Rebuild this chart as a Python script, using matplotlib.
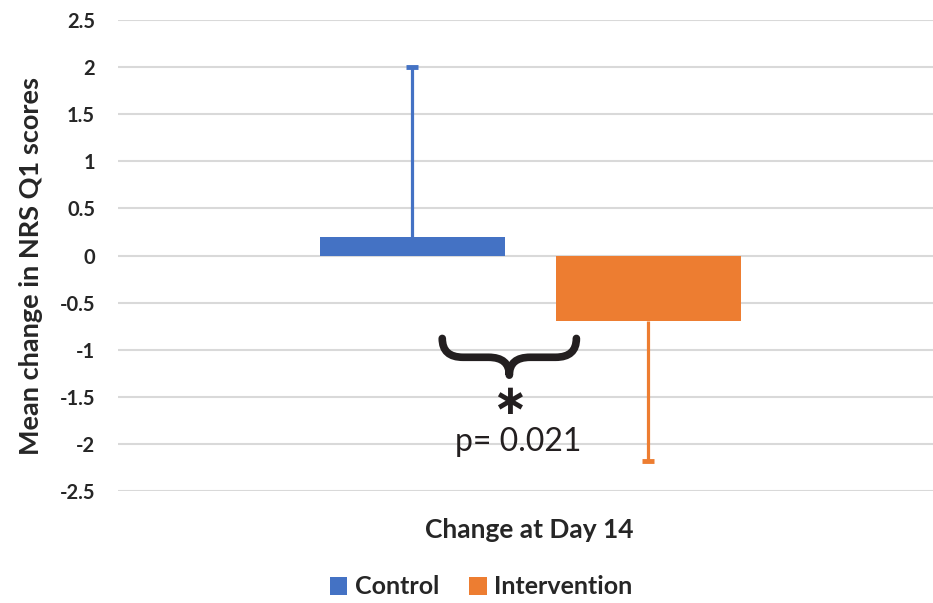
import numpy as np
from matplotlib import pyplot as plt
from matplotlib.path import Path
from matplotlib.patches import PathPatch

plt.rcParams["font.family"] = ["Lato", "DejaVu Sans"]

# data
groups = ["Control", "Intervention"]
means = [0.2, -0.7]
err_low = [0.0, 1.48]
err_high = [1.8, 0.0]
colors = ["#4472C4", "#ED7D31"]
xlabel = "Change at Day 14"
ylabel = "Mean change in NRS Q1 scores"
yticks = np.arange(-2.5, 2.51, 0.5)
ytick_labels = ["-2.5", "-2", "-1.5", "-1", "-0.5", "0", "0.5", "1", "1.5", "2", "2.5"]
p_text = "p= 0.021"

fig = plt.figure(figsize=(9.33, 6.03), dpi=100)
ax = fig.add_axes([0.1265, 0.1857, 0.8735, 0.781])

width = 0.4
offsets = [-0.255, 0.255]
for i in range(len(groups)):
    ax.bar(offsets[i], means[i], width=width, color=colors[i], label=groups[i], zorder=3)
    eb = ax.errorbar(offsets[i], means[i], yerr=[[err_low[i]], [err_high[i]]], fmt="none",
                     ecolor=colors[i], elinewidth=2.3, capsize=4.3, capthick=3.5, zorder=4)
    # one-sided bars: hide the cap on the zero-length side
    low_cap, high_cap = eb[1]
    if err_low[i] == 0:
        low_cap.set_visible(False)
    if err_high[i] == 0:
        high_cap.set_visible(False)

ax.set_xlim(-0.891, 0.871)
ax.set_ylim(-2.5, 2.5)
ax.set_yticks(yticks)
ax.set_yticklabels(ytick_labels, fontweight="bold", fontsize=14.5, color="#262626")
ax.set_xticks([])
ax.tick_params(axis="y", length=0, pad=16.5)
ax.grid(axis="y", color="#d9d9d9", lw=1.5, zorder=0)
for s in ax.spines.values():
    s.set_visible(False)

ax.set_xlabel(xlabel, fontsize=19, fontweight="bold", color="#262626")
ax.xaxis.set_label_coords(0.504, -0.058)
ax.xaxis.label.set_va("top")
ax.set_ylabel(ylabel, fontsize=19.5, fontweight="bold", color="#262626", va="center")
ax.yaxis.set_label_coords(-0.107, 0.478)

# significance brace
x0, x1 = -0.19, 0.10
xc = (x0 + x1) / 2
ytop, ymid, ytip = -0.88, -1.08, -1.27
q = 0.045
verts = [(x0, ytop), (x0, ymid), (x0 + q, ymid), (xc - q, ymid), (xc, ymid), (xc, ytip),
         (xc, ymid), (xc + q, ymid), (x1 - q, ymid), (x1, ymid), (x1, ytop)]
codes = [Path.MOVETO, Path.CURVE3, Path.CURVE3, Path.LINETO, Path.CURVE3, Path.CURVE3,
         Path.CURVE3, Path.CURVE3, Path.LINETO, Path.CURVE3, Path.CURVE3]
ax.add_patch(PathPatch(Path(verts, codes), fill=False, lw=5.5, color="#231f20",
                       capstyle="round", joinstyle="round", zorder=5))
ax.text(xc, -1.56, "\u2217", fontsize=30, fontweight="bold", family="DejaVu Sans",
        ha="center", va="center", color="#231f20", zorder=5)
ax.text(-0.025, -2.08, p_text, fontsize=23, ha="center", va="baseline",
        color="#231f20", zorder=5)

fig.legend(loc="center", bbox_to_anchor=(481 / 933, 1 - 587 / 603), ncol=2, frameon=False,
           prop={"size": 18, "weight": "bold"}, handlelength=0.7, handleheight=0.7,
           handletextpad=0.3, columnspacing=1.2, labelcolor="#262626")

fig.savefig("out.png", dpi=100)
